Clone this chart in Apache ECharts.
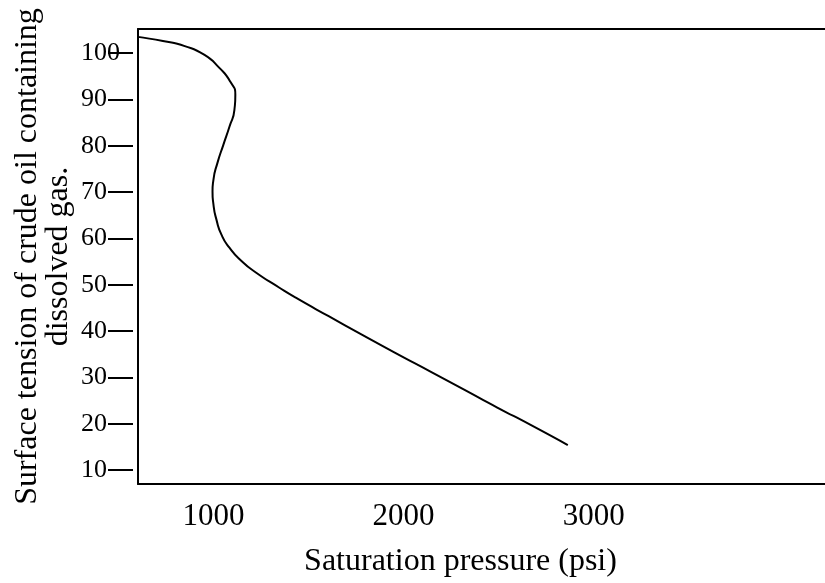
<!DOCTYPE html>
<html>
<head>
<meta charset="utf-8">
<script src="https://cdn.jsdelivr.net/npm/echarts@6/dist/echarts.min.js"></script>
<style>
html,body{margin:0;padding:0;background:#fff;}
#chart{width:825px;height:583px;}
</style>
</head>
<body>
<div id="chart"></div>
<script>
// Saturation pressure (psi)
var pressure = [603, 734, 849, 953, 1031, 1089, 1115, 1110, 1084, 1052, 1021, 1000, 995, 1000, 1016, 1042, 1084, 1146, 1225, 1345, 1433, 1606, 1778, 1956, 2144, 2321, 2493, 2666, 2864];
// Surface tension
var tension = [103.5, 102.6, 101.5, 99.6, 96.8, 93.8, 91.0, 87.7, 84.1, 80.2, 76.3, 72.7, 70.1, 67.3, 64.0, 60.8, 58.0, 55.2, 52.6, 49.4, 47.2, 43.2, 39.3, 35.3, 31.2, 27.3, 23.5, 19.8, 15.4];
var xTicks = [1000, 2000, 3000];
var yTicks = [10, 20, 30, 40, 50, 60, 70, 80, 90, 100];
var xTitle = 'Saturation pressure (psi)';
var yTitle = 'Surface tension of crude oil containing\ndissolved gas.';

var pts = pressure.map(function (p, i) { return [p, tension[i]]; });
var font = '"Liberation Serif", "Times New Roman", serif';
var chart = echarts.init(document.getElementById('chart'));
chart.setOption({
  animation: false,
  backgroundColor: '#fff',
  grid: { left: 138, right: -5, top: 29, bottom: 98 },
  xAxis: [{
    type: 'value', position: 'bottom', min: 603, max: 4217,
    axisLine: { show: true, lineStyle: { color: '#000', width: 2 } },
    axisTick: { show: false },
    splitLine: { show: false },
    axisLabel: { customValues: xTicks, formatter: function (v) { return String(v); }, color: '#000', fontFamily: font, fontSize: 31, margin: 17 },
    name: xTitle, nameLocation: 'middle', nameGap: 62,
    nameTextStyle: { color: '#000', fontFamily: font, fontSize: 32, padding: [0, 42, 0, 0] }
  }, {
    type: 'value', position: 'top', min: 603, max: 4217,
    axisLine: { show: true, onZero: false, lineStyle: { color: '#000', width: 2 } },
    axisTick: { show: false }, axisLabel: { show: false }, splitLine: { show: false }
  }],
  yAxis: [{
    type: 'value', position: 'left', min: 6.99, max: 105.2,
    axisLine: { show: true, onZero: false, lineStyle: { color: '#000', width: 2 } },
    axisTick: { show: false }, axisLabel: { show: false }, splitLine: { show: false },
    name: yTitle, nameLocation: 'middle', nameGap: 64, nameRotate: 90,
    nameTextStyle: { color: '#000', fontFamily: font, fontSize: 32, lineHeight: 31, align: 'center' }
  }, {
    type: 'value', position: 'left', offset: 5, min: 6.99, max: 105.2,
    axisLine: { show: false },
    axisTick: { show: true, customValues: yTicks, length: 25, lineStyle: { color: '#000', width: 2 } },
    axisLabel: { customValues: yTicks, color: '#000', fontFamily: font, fontSize: 26, align: 'left', margin: 52 },
    splitLine: { show: false }
  }],
  series: [{
    type: 'line', xAxisIndex: 0, yAxisIndex: 0,
    data: pts, smooth: 0.6, symbol: 'none',
    lineStyle: { color: '#000', width: 2 }
  }]
});
</script>
</body>
</html>
